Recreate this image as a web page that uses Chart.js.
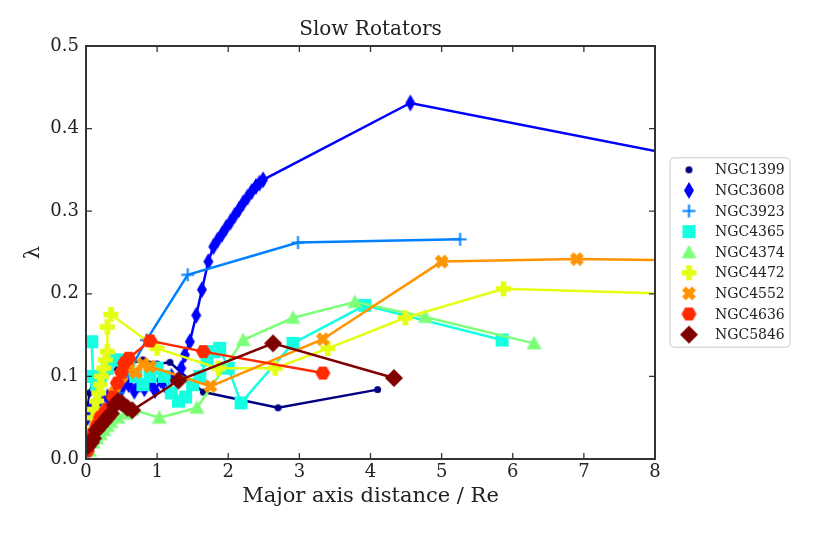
<!DOCTYPE html>
<html>
<head>
<meta charset="utf-8">
<script src="https://cdn.jsdelivr.net/npm/chart.js@4"></script>
<style>body{margin:0;background:#fff}</style>
</head>
<body>
<canvas id="chart" width="830" height="534"></canvas>
<script>
// Data
const galaxies = ['NGC1399', 'NGC3608', 'NGC3923', 'NGC4365', 'NGC4374', 'NGC4472', 'NGC4552', 'NGC4636', 'NGC5846'];

const r1399 = [0.02, 0.05, 0.1, 0.2, 0.3, 0.45, 0.6, 0.8, 1.0, 1.18, 1.65, 2.7, 4.1];
const lam1399 = [0.06, 0.08, 0.095, 0.1, 0.105, 0.11, 0.115, 0.12, 0.115, 0.117, 0.081, 0.062, 0.084];

const r3608 = [0.02, 0.06, 0.12, 0.2, 0.3, 0.4, 0.5, 0.6, 0.68, 0.75, 0.82, 0.9, 0.97, 1.05, 1.12, 1.2, 1.28, 1.34, 1.39, 1.46, 1.55, 1.63, 1.72, 1.79, 1.85, 1.91, 1.97, 2.03, 2.09, 2.15, 2.21, 2.27, 2.33, 2.39, 2.44, 2.49, 4.56, 10.0];
const lam3608 = [0.05, 0.06, 0.065, 0.07, 0.075, 0.08, 0.085, 0.09, 0.082, 0.09, 0.085, 0.092, 0.083, 0.095, 0.088, 0.1, 0.095, 0.11, 0.126, 0.142, 0.174, 0.205, 0.239, 0.257, 0.265, 0.272, 0.28, 0.287, 0.295, 0.302, 0.31, 0.317, 0.324, 0.33, 0.334, 0.338, 0.431, 0.339];

const r3923 = [0.03, 0.1, 0.2, 0.3, 0.45, 0.6, 0.85, 1.43, 2.98, 5.26];
const lam3923 = [0.005, 0.02, 0.04, 0.06, 0.08, 0.105, 0.144, 0.223, 0.262, 0.266];

const r4365 = [0.08, 0.1, 0.15, 0.2, 0.3, 0.4, 0.5, 0.6, 0.7, 0.8, 0.9, 1.0, 1.1, 1.2, 1.3, 1.4, 1.5, 1.6, 1.7, 1.8, 1.88, 2.0, 2.18, 2.91, 3.92, 5.85];
const lam4365 = [0.142, 0.1, 0.09, 0.1, 0.11, 0.12, 0.12, 0.11, 0.1, 0.09, 0.1, 0.11, 0.1, 0.08, 0.07, 0.075, 0.09, 0.1, 0.12, 0.13, 0.134, 0.11, 0.068, 0.14, 0.186, 0.144];

const r4374 = [0.05, 0.1, 0.15, 0.2, 0.25, 0.3, 0.35, 0.45, 0.55, 0.65, 1.03, 1.56, 2.21, 2.91, 3.78, 4.77, 6.3];
const lam4374 = [0.01, 0.02, 0.025, 0.03, 0.035, 0.04, 0.045, 0.05, 0.055, 0.06, 0.05, 0.062, 0.144, 0.171, 0.19, 0.172, 0.14];

const r4472 = [0.05, 0.1, 0.12, 0.15, 0.18, 0.2, 0.22, 0.25, 0.27, 0.3, 0.3, 0.35, 1.0, 1.86, 2.66, 3.4, 4.49, 5.87, 9.5];
const lam4472 = [0.03, 0.05, 0.06, 0.07, 0.08, 0.09, 0.1, 0.11, 0.12, 0.13, 0.16, 0.175, 0.134, 0.11, 0.11, 0.134, 0.171, 0.206, 0.197];

const r4552 = [0.03, 0.08, 0.15, 0.2, 0.3, 0.4, 0.5, 0.6, 0.7, 0.8, 0.9, 1.75, 3.33, 5.0, 6.9, 9.6];
const lam4552 = [0.02, 0.03, 0.04, 0.05, 0.06, 0.08, 0.1, 0.11, 0.105, 0.115, 0.112, 0.088, 0.145, 0.239, 0.242, 0.239];

const r4636 = [0.02, 0.05, 0.1, 0.15, 0.2, 0.25, 0.3, 0.38, 0.44, 0.5, 0.54, 0.6, 0.9, 1.65, 3.33];
const lam4636 = [0.01, 0.02, 0.03, 0.04, 0.05, 0.055, 0.06, 0.075, 0.092, 0.105, 0.116, 0.122, 0.143, 0.13, 0.104];

const r5846 = [0.02, 0.07, 0.1, 0.15, 0.2, 0.25, 0.3, 0.35, 0.4, 0.45, 0.5, 0.58, 0.65, 1.3, 2.63, 4.33];
const lam5846 = [0.015, 0.02, 0.025, 0.035, 0.04, 0.045, 0.05, 0.055, 0.065, 0.07, 0.068, 0.062, 0.059, 0.095, 0.14, 0.098];

const radii = [r1399, r3608, r3923, r4365, r4374, r4472, r4552, r4636, r5846];
const lambdas = [lam1399, lam3608, lam3923, lam4365, lam4374, lam4472, lam4552, lam4636, lam5846];

const xTicks = [0, 1, 2, 3, 4, 5, 6, 7, 8];
const yTicks = [0, 0.1, 0.2, 0.3, 0.4, 0.5];

// Styles
const colors = ['#000080', '#0000ff', '#0080ff', '#15ffe1', '#7dff7a', '#e4ff13', '#ff9400', '#ff2a00', '#800000'];
const shapes = ['o', 'd', '+', 's', '^', 'P', 'X', 'H', 'D'];
const sizes = [7, 17, 13, 13, 15, 15, 15, 15, 18];
const serif = "'DejaVu Serif', 'Liberation Serif', serif";
const axisColor = '#333';

// Build a marker image in the matplotlib style
function makeMarker(shape, size, color) {
	const c = document.createElement('canvas');
	const w = shape == 'd' ? 12 : size + 2;
	c.width = w;
	c.height = size + 2;
	const ctx = c.getContext('2d');
	const mx = c.width / 2, my = c.height / 2, r = size / 2;
	ctx.fillStyle = color;
	ctx.strokeStyle = color;
	ctx.beginPath();
	if(shape == 'o') {
		ctx.arc(mx, my, r, 0, Math.PI * 2);
	} else if(shape == 'd') {
		ctx.moveTo(mx, my - r);
		ctx.lineTo(mx + 5, my);
		ctx.lineTo(mx, my + r);
		ctx.lineTo(mx - 5, my);
	} else if(shape == '+') {
		ctx.lineWidth = 2;
		ctx.moveTo(mx - r, my); ctx.lineTo(mx + r, my);
		ctx.moveTo(mx, my - r); ctx.lineTo(mx, my + r);
		ctx.stroke();
		return c;
	} else if(shape == 's') {
		ctx.rect(mx - r, my - r, size, size);
	} else if(shape == '^') {
		ctx.moveTo(mx, my - r);
		ctx.lineTo(mx + r, my + r * 0.8);
		ctx.lineTo(mx - r, my + r * 0.8);
	} else if(shape == 'P' || shape == 'X') {
		const a = r * 0.38;
		const pts = [[-a, -r], [a, -r], [a, -a], [r, -a], [r, a], [a, a], [a, r], [-a, r], [-a, a], [-r, a], [-r, -a], [-a, -a]];
		const rot = shape == 'X' ? Math.PI / 4 : 0;
		const k = shape == 'X' ? 0.95 : 1;
		pts.forEach((p, i) => {
			const px = mx + k * (p[0] * Math.cos(rot) - p[1] * Math.sin(rot));
			const py = my + k * (p[0] * Math.sin(rot) + p[1] * Math.cos(rot));
			if(i == 0) ctx.moveTo(px, py); else ctx.lineTo(px, py);
		});
	} else if(shape == 'H') {
		for(let i = 0; i < 6; i++) {
			const ang = i * Math.PI / 3;
			const px = mx + r * Math.cos(ang), py = my + r * Math.sin(ang);
			if(i == 0) ctx.moveTo(px, py); else ctx.lineTo(px, py);
		}
	} else if(shape == 'D') {
		ctx.moveTo(mx, my - r);
		ctx.lineTo(mx + r, my);
		ctx.lineTo(mx, my + r);
		ctx.lineTo(mx - r, my);
	}
	ctx.closePath();
	ctx.fill();
	return c;
}

const markers = shapes.map((s, i) => makeMarker(s, sizes[i], colors[i]));

const datasets = galaxies.map((name, i) => ({
	label: name,
	data: radii[i].map((r, j) => ({ x: r, y: lambdas[i][j] })),
	showLine: true,
	borderColor: colors[i],
	backgroundColor: colors[i],
	borderWidth: 2.5,
	pointStyle: markers[i],
	pointRadius: 5,
	tension: 0,
	clip: 0,
	order: galaxies.length - i // first galaxy drawn at the bottom
}));

// Frame with inward ticks on all four sides
const framePlugin = {
	id: 'frame',
	afterDatasetsDraw(chart) {
		const { ctx, chartArea: a, scales: { x, y } } = chart;
		ctx.save();
		ctx.strokeStyle = axisColor;
		ctx.lineWidth = 1.3;
		ctx.beginPath();
		xTicks.forEach(v => {
			const px = x.getPixelForValue(v);
			ctx.moveTo(px, a.bottom); ctx.lineTo(px, a.bottom - 6);
			ctx.moveTo(px, a.top); ctx.lineTo(px, a.top + 6);
		});
		yTicks.forEach(v => {
			const py = y.getPixelForValue(v);
			ctx.moveTo(a.left, py); ctx.lineTo(a.left + 6, py);
			ctx.moveTo(a.right, py); ctx.lineTo(a.right - 6, py);
		});
		ctx.stroke();
		ctx.lineWidth = 2;
		ctx.strokeRect(a.left, a.top, a.right - a.left, a.bottom - a.top);
		ctx.restore();
	}
};

// Legend box to the right of the axes
const legendPlugin = {
	id: 'sideLegend',
	afterDraw(chart) {
		const { ctx, chartArea: a } = chart;
		const rowH = 20.6;
		const n = chart.data.datasets.length;
		const boxL = a.right + 15, boxW = 120, boxH = rowH * n + 4;
		const boxT = (a.top + a.bottom) / 2 - boxH / 2;
		ctx.save();
		ctx.fillStyle = '#fff';
		ctx.strokeStyle = '#cccccc';
		ctx.lineWidth = 1;
		ctx.beginPath();
		ctx.roundRect(boxL, boxT, boxW, boxH, 4);
		ctx.fill();
		ctx.stroke();
		ctx.font = '14px ' + serif;
		ctx.textBaseline = 'middle';
		ctx.fillStyle = '#222';
		chart.data.datasets.forEach((ds, i) => {
			const cy = boxT + 12 + i * rowH;
			const img = ds.pointStyle;
			ctx.drawImage(img, boxL + 19 - img.width / 2, cy - img.height / 2);
			ctx.fillText(ds.label, boxL + 45, cy + 1);
		});
		ctx.restore();
	}
};

Chart.defaults.font.family = serif;
Chart.defaults.color = '#222';

new Chart(document.getElementById('chart'), {
	type: 'scatter',
	data: { datasets: datasets },
	options: {
		responsive: false,
		animation: false,
		events: [],
		layout: { padding: { top: 0, right: 175, bottom: 0, left: 0 } },
		plugins: {
			legend: { display: false },
			tooltip: { enabled: false },
			title: {
				display: true,
				fullSize: false,
				text: 'Slow Rotators',
				font: { size: 20, weight: 'normal' },
				color: '#222',
				padding: { top: 18, bottom: 4 }
			}
		},
		scales: {
			x: {
				type: 'linear',
				min: 0,
				max: 8,
				afterBuildTicks: s => { s.ticks = xTicks.map(v => ({ value: v })); },
				ticks: { font: { size: 18 }, padding: 3, callback: v => String(v) },
				grid: { display: false, drawTicks: false },
				border: { display: false },
				title: { display: true, text: 'Major axis distance / Re', font: { size: 21 }, padding: { top: 0, bottom: 25 } },
				afterFit: s => { s.height = 75; }
			},
			y: {
				type: 'linear',
				min: 0,
				max: 0.5,
				afterBuildTicks: s => { s.ticks = yTicks.map(v => ({ value: v })); },
				ticks: { font: { size: 18 }, padding: 7, callback: v => v.toFixed(1) },
				grid: { display: false, drawTicks: false },
				border: { display: false },
				title: { display: true, text: 'λ', font: { size: 21 }, padding: { top: 21, bottom: 0 } },
				afterFit: s => { s.width = 86; }
			}
		}
	},
	plugins: [framePlugin, legendPlugin]
});
</script>
</body>
</html>
